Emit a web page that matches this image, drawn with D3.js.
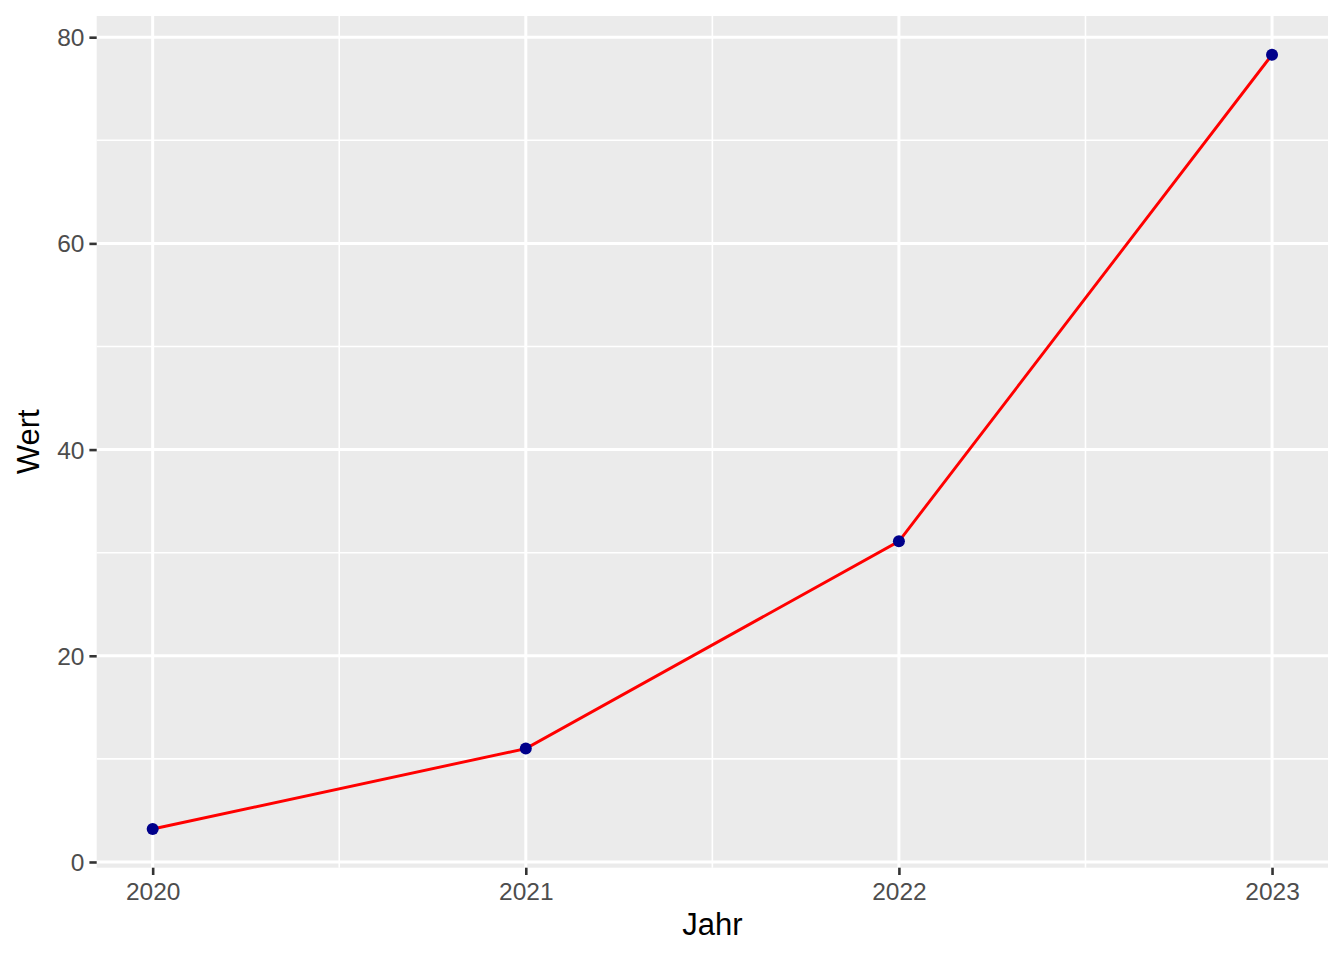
<!DOCTYPE html>
<html>
<head>
<meta charset="utf-8">
<script src="https://cdn.jsdelivr.net/npm/d3@7"></script>
<style>
  html, body { margin: 0; padding: 0; background: #fff; }
  svg { display: block; font-family: "Liberation Sans", Arial, Helvetica, sans-serif; }
</style>
</head>
<body>
<svg id="chart" width="1344" height="960"></svg>
<script>
const years = [2020, 2021, 2022, 2023];
const values = [3.2, 11.0, 31.1, 78.3];
const yTicks = [0, 20, 40, 60, 80];
const yMinorTicks = [10, 30, 50, 70];
const xMinorTicks = [2020.5, 2021.5, 2022.5];
const xTitle = "Jahr";
const yTitle = "Wert";

const W = 1344, H = 960;
const panel = { left: 96.7, right: 1328, top: 16, bottom: 867.7 };

const svg = d3.select("#chart");

const xExt = d3.extent(years), xPad = (xExt[1] - xExt[0]) * 0.05;
const yExt = d3.extent(values), yPad = (yExt[1] - yExt[0]) * 0.05;

const x = d3.scaleLinear().domain([xExt[0] - xPad, xExt[1] + xPad]).range([panel.left, panel.right]);
const y = d3.scaleLinear().domain([yExt[0] - yPad, yExt[1] + yPad]).range([panel.bottom, panel.top]);

// panel background
svg.append("rect")
  .attr("x", panel.left).attr("y", panel.top)
  .attr("width", panel.right - panel.left).attr("height", panel.bottom - panel.top)
  .attr("fill", "#EBEBEB");

const grid = svg.append("g");
// minor grid
grid.selectAll(".ym").data(yMinorTicks).join("line")
  .attr("x1", panel.left).attr("x2", panel.right)
  .attr("y1", d => y(d)).attr("y2", d => y(d))
  .attr("stroke", "#fff").attr("stroke-width", 1.6);
grid.selectAll(".xm").data(xMinorTicks).join("line")
  .attr("y1", panel.top).attr("y2", panel.bottom)
  .attr("x1", d => x(d)).attr("x2", d => x(d))
  .attr("stroke", "#fff").attr("stroke-width", 1.6);
// major grid
grid.selectAll(".yM").data(yTicks).join("line")
  .attr("x1", panel.left).attr("x2", panel.right)
  .attr("y1", d => y(d)).attr("y2", d => y(d))
  .attr("stroke", "#fff").attr("stroke-width", 3);
grid.selectAll(".xM").data(years).join("line")
  .attr("y1", panel.top).attr("y2", panel.bottom)
  .attr("x1", d => x(d)).attr("x2", d => x(d))
  .attr("stroke", "#fff").attr("stroke-width", 3);

// axes
const xAxis = d3.axisBottom(x).tickValues(years).tickFormat(d3.format("d")).tickSize(7.3).tickPadding(5);
const yAxis = d3.axisLeft(y).tickValues(yTicks).tickFormat(d3.format("d")).tickSize(7.3).tickPadding(5);

const gx = svg.append("g").attr("transform", `translate(0,${panel.bottom})`).call(xAxis);
const gy = svg.append("g").attr("transform", `translate(${panel.left},0)`).call(yAxis);
[gx, gy].forEach(g => {
  g.select(".domain").remove();
  g.selectAll(".tick line").attr("stroke", "#333333").attr("stroke-width", 2.6);
  g.selectAll(".tick text").attr("fill", "#4D4D4D").style("font-size", "24.5px")
    .attr("font-family", "Liberation Sans, Arial, sans-serif");
});
gx.selectAll(".tick text").attr("dy", "0.71em").attr("y", 14.5);
gy.selectAll(".tick text").attr("dy", "0.35em");

// line
const line = d3.line().x((d, i) => x(years[i])).y(d => y(d));
svg.append("path").datum(values)
  .attr("d", line).attr("fill", "none")
  .attr("stroke", "#FF0000").attr("stroke-width", 2.9);

// points
svg.selectAll(".pt").data(values).join("circle")
  .attr("cx", (d, i) => x(years[i])).attr("cy", d => y(d))
  .attr("r", 6).attr("fill", "#00008B");

// titles
svg.append("text")
  .attr("x", (panel.left + panel.right) / 2).attr("y", 935)
  .attr("text-anchor", "middle").attr("fill", "#000")
  .style("font-size", "31px").text(xTitle);
svg.append("text")
  .attr("transform", `translate(38.5,${(panel.top + panel.bottom) / 2}) rotate(-90)`)
  .attr("text-anchor", "middle").attr("fill", "#000")
  .style("font-size", "31px").text(yTitle);
</script>
</body>
</html>
